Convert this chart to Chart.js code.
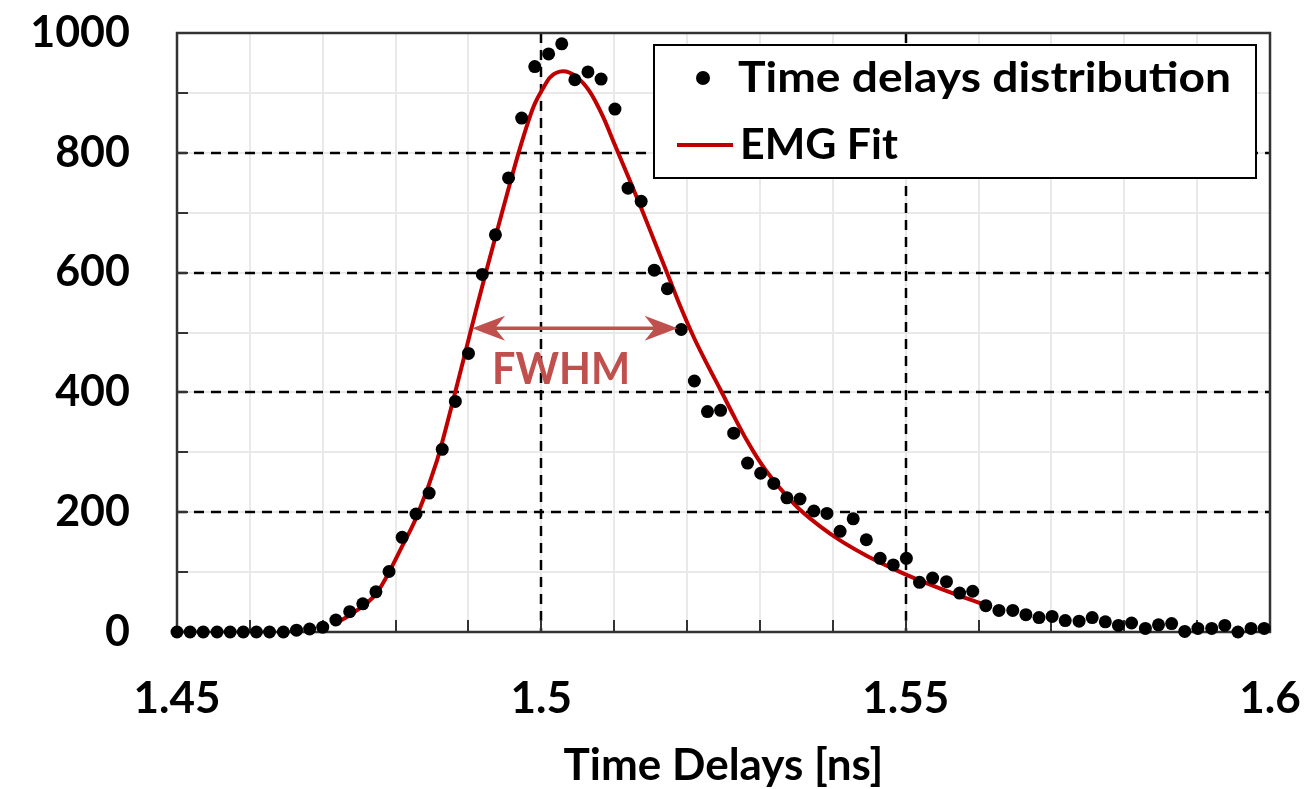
<!DOCTYPE html>
<html><head><meta charset="utf-8">
<script src="https://cdn.jsdelivr.net/npm/chart.js@4.4.0/dist/chart.umd.min.js"></script>
<style>html,body{margin:0;padding:0;background:#fff;overflow:hidden}#wrap{width:1312px;height:789px;position:relative}</style>
</head><body><div id="wrap"><canvas id="c" width="1312" height="789"></canvas></div>
<script>
// ---- data ----
const delayBins = [1.4500,1.4518,1.4536,1.4555,1.4573,1.4591,1.4609,1.4627,1.4646,1.4664,1.4682,1.4700,1.4718,1.4737,1.4755,1.4773,1.4791,1.4809,1.4828,1.4846,1.4864,1.4882,1.4900,1.4919,1.4937,1.4955,1.4973,1.4991,1.5010,1.5028,1.5046,1.5064,1.5082,1.5101,1.5119,1.5137,1.5155,1.5173,1.5192,1.5210,1.5228,1.5246,1.5264,1.5283,1.5301,1.5319,1.5337,1.5355,1.5374,1.5392,1.5410,1.5428,1.5446,1.5465,1.5483,1.5501,1.5519,1.5537,1.5556,1.5574,1.5592,1.5610,1.5628,1.5647,1.5665,1.5683,1.5701,1.5719,1.5738,1.5756,1.5774,1.5792,1.5810,1.5829,1.5847,1.5865,1.5883,1.5901,1.5920,1.5938,1.5956,1.5974,1.5992];
const counts = [0,0,0,0,0,0,0,0,0,3,5,8,20,34,47,67,101,158,197,232,305,385,465,597,663,758,858,944,965,982,922,935,923,873,741,719,604,573,505,419,368,370,332,282,265,248,224,222,202,198,168,189,154,123,112,123,83,90,84,65,68,44,36,36,29,24,26,19,18,24,17,11,15,6,12,14,1,6,6,11,0,6,6];
const fitX = [1.4714,1.4738,1.4774,1.4811,1.4829,1.4857,1.4879,1.4898,1.4912,1.4925,1.4948,1.4971,1.4989,1.5003,1.5012,1.5030,1.5048,1.5066,1.5084,1.5102,1.5120,1.5138,1.5156,1.5174,1.5192,1.5210,1.5228,1.5246,1.5264,1.5282,1.5300,1.5318,1.5336,1.5355,1.5383,1.5410,1.5447,1.5484,1.5502,1.5538,1.5575,1.5603];
const fitY = [12,29,65,148,193,287,387,478,545,605,709,809,876,909,926,936,927,903,862,810,758,705,650,595,540,490,446,404,361,320,284,254,228,204,176,153,127,105,95,77,60,48];
const xTickLabels = ['1.45','1.5','1.55','1.6'];
const yTickLabels = ['0','200','400','600','800','1000'];
const seriesNames = ['Time delays distribution','EMG Fit'];
const xTitle = 'Time Delays [ns]';
const fwhmLabel = 'FWHM';
const fwhmX = [1.4905, 1.5187];
const fwhmY = 507;

// ---- styles ----
const FIT_RED = '#c00000';
const NOTE_RED = '#c0504d';
const FONT = 'Lato, "Open Sans", sans-serif';

function fitText(ctx, text, x, y, targetW) {
  const w = ctx.measureText(text).width;
  const sx = targetW / w;
  ctx.save();
  ctx.translate(x, y);
  ctx.scale(sx, 1);
  ctx.fillText(text, 0, 0);
  ctx.restore();
}

const decor = {
  id: 'decor',
  beforeDatasetsDraw(chart) {
    const {ctx, chartArea: a, scales: {x, y}} = chart;
    ctx.save();
    // minor grid
    ctx.strokeStyle = '#e9e9e9';
    ctx.lineWidth = 2;
    for (let k = 1; k < 15; k++) {
      const px = Math.round(x.getPixelForValue(1.45 + k * 0.01));
      ctx.beginPath(); ctx.moveTo(px, a.top); ctx.lineTo(px, a.bottom); ctx.stroke();
    }
    for (let k = 1; k < 10; k++) {
      const py = Math.round(y.getPixelForValue(k * 100));
      ctx.beginPath(); ctx.moveTo(a.left, py); ctx.lineTo(a.right, py); ctx.stroke();
    }
    // major dashed grid
    ctx.strokeStyle = '#000';
    ctx.lineWidth = 2.5;
    ctx.setLineDash([10, 7]);
    [1.5, 1.55].forEach(v => {
      const px = Math.round(x.getPixelForValue(v));
      ctx.beginPath(); ctx.moveTo(px, a.top); ctx.lineTo(px, a.bottom); ctx.stroke();
    });
    [200, 400, 600, 800].forEach(v => {
      const py = Math.round(y.getPixelForValue(v));
      ctx.beginPath(); ctx.moveTo(a.left, py); ctx.lineTo(a.right, py); ctx.stroke();
    });
    ctx.setLineDash([]);
    // inside tick marks
    ctx.strokeStyle = '#333';
    ctx.lineWidth = 2;
    for (let k = 1; k < 10; k++) {
      const py = Math.round(y.getPixelForValue(k * 100));
      ctx.beginPath(); ctx.moveTo(a.left, py); ctx.lineTo(a.left + 11, py); ctx.stroke();
    }
    for (let k = 1; k < 15; k++) {
      const px = Math.round(x.getPixelForValue(1.45 + k * 0.01));
      ctx.beginPath(); ctx.moveTo(px, a.bottom); ctx.lineTo(px, a.bottom - 12); ctx.stroke();
    }
    // border
    ctx.strokeStyle = '#333';
    ctx.lineWidth = 2.5;
    ctx.strokeRect(a.left, a.top, a.right - a.left, a.bottom - a.top);
    ctx.restore();
  },
  afterDatasetsDraw(chart) {
    const {ctx, chartArea: a, scales: {x, y}} = chart;
    ctx.save();
    // FWHM arrow
    const x1 = x.getPixelForValue(fwhmX[0]), x2 = x.getPixelForValue(fwhmX[1]);
    const yy = y.getPixelForValue(fwhmY);
    ctx.strokeStyle = NOTE_RED; ctx.fillStyle = NOTE_RED; ctx.lineWidth = 3.5;
    ctx.beginPath(); ctx.moveTo(x1 + 20, yy); ctx.lineTo(x2 - 20, yy); ctx.stroke();
    const head = (tx, dir) => {
      ctx.beginPath();
      ctx.moveTo(tx, yy);
      ctx.lineTo(tx + dir * 33, yy - 12.5);
      ctx.lineTo(tx + dir * 23, yy);
      ctx.lineTo(tx + dir * 33, yy + 12.5);
      ctx.closePath(); ctx.fill();
    };
    head(x1, 1); head(x2, -1);
    ctx.font = 'bold 44px ' + FONT;
    ctx.textBaseline = 'alphabetic';
    ctx.textAlign = 'left';
    fitText(ctx, fwhmLabel, x1 + 20, yy + 56, 138);

    // legend
    const L = a.right - 616, T = a.top + 12, W = 602, H = 133;
    ctx.fillStyle = '#fff';
    ctx.fillRect(L, T, W, H);
    ctx.strokeStyle = '#000'; ctx.lineWidth = 2;
    ctx.strokeRect(L, T, W, H);
    ctx.fillStyle = '#000';
    ctx.beginPath(); ctx.arc(L + 49, T + 33, 7, 0, Math.PI * 2); ctx.fill();
    ctx.font = 'bold 42px ' + FONT;
    fitText(ctx, seriesNames[0], L + 84, T + 47, 493);
    ctx.strokeStyle = FIT_RED; ctx.lineWidth = 4;
    ctx.beginPath(); ctx.moveTo(L + 23, T + 100); ctx.lineTo(L + 79, T + 100); ctx.stroke();
    ctx.fillStyle = '#000';
    fitText(ctx, seriesNames[1], L + 86, T + 114, 158);
    ctx.restore();
  }
};

function labelFor(list, v) {
  const hit = list.find(s => Math.abs(Number(s) - v) < 1e-6);
  return hit === undefined ? '' : hit;
}

function build() {
  new Chart(document.getElementById('c'), {
    type: 'scatter',
    data: {
      datasets: [
        {
          label: seriesNames[0],
          data: delayBins.map((d, i) => ({x: d, y: counts[i]})),
          backgroundColor: '#000', borderColor: '#000',
          pointRadius: 6.5, pointBorderWidth: 0, showLine: false, clip: false
        },
        {
          label: seriesNames[1],
          data: fitX.map((d, i) => ({x: d, y: fitY[i]})),
          borderColor: FIT_RED, backgroundColor: FIT_RED, borderWidth: 4,
          pointRadius: 0, showLine: true, cubicInterpolationMode: 'monotone', clip: false
        }
      ]
    },
    options: {
      responsive: false, animation: false, devicePixelRatio: 1,
      layout: {padding: {top: 33, right: 42, left: 0, bottom: 0}},
      plugins: {legend: {display: false}, tooltip: {enabled: false}},
      scales: {
        x: {
          type: 'linear', min: 1.45, max: 1.6,
          grid: {display: false, drawTicks: false}, border: {display: false},
          ticks: {stepSize: 0.05, padding: 40, autoSkip: false, maxRotation: 0, color: '#000',
                  font: {family: FONT, weight: 'bold', size: 44},
                  callback: v => labelFor(xTickLabels, v)},
          title: {display: true, text: xTitle, color: '#000', padding: {top: 0, bottom: 0},
                  font: {family: FONT, weight: 'bold', size: 44, lineHeight: 1.05}},
          afterFit(s) { s.height = 157; s.paddingLeft = 0; s.paddingRight = 0; }
        },
        y: {
          min: 0, max: 1000,
          grid: {display: false, drawTicks: false}, border: {display: false},
          ticks: {stepSize: 200, padding: 47, color: '#000',
                  font: {family: FONT, weight: 'bold', size: 43},
                  callback: v => labelFor(yTickLabels, v)},
          afterFit(s) { s.width = 177; s.paddingTop = 0; s.paddingBottom = 0; }
        }
      }
    },
    plugins: [decor]
  });
}
(document.fonts ? Promise.all([document.fonts.load('bold 44px Lato')]).catch(()=>{}) : Promise.resolve()).then(build);
</script>
</body></html>
